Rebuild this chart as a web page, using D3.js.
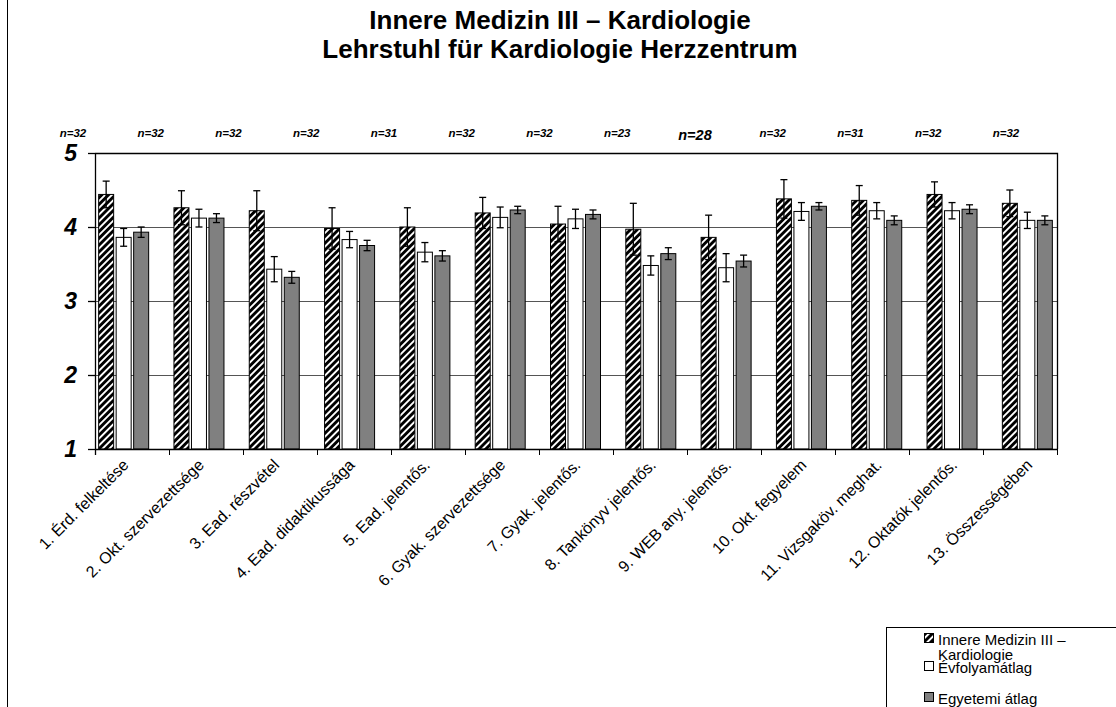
<!DOCTYPE html>
<html>
<head>
<meta charset="utf-8">
<script src="https://cdn.jsdelivr.net/npm/d3@7"></script>
<style>
  body { margin: 0; background: #fff; }
  text { font-family: Arial, "Liberation Sans", sans-serif; }
</style>
</head>
<body>
<svg width="1116" height="707"></svg>
<script>
const categories = [
  "1. Érd. felkeltése", "2. Okt. szervezettsége", "3. Ead. részvétel",
  "4. Ead. didaktikussága", "5. Ead. jelentős.", "6. Gyak. szervezettsége",
  "7. Gyak. jelentős.", "8. Tankönyv jelentős.", "9. WEB any. jelentős.",
  "10. Okt. fegyelem", "11. Vizsgaköv. meghat.", "12. Oktatók jelentős.",
  "13. Összességében"
];
const nLabels = ["n=32", "n=32", "n=32", "n=32", "n=31", "n=32", "n=32",
                 "n=23", "n=28", "n=32", "n=31", "n=32", "n=32"];
const seriesNames = ["Innere Medizin III – Kardiologie", "Évfolyamátlag", "Egyetemi átlag"];

const klinik = [4.44, 4.26, 4.22, 3.98, 4.00, 4.19, 4.04, 3.97, 3.86, 4.38, 4.36, 4.44, 4.32];
const klinikErr = [0.18, 0.23, 0.27, 0.28, 0.26, 0.21, 0.24, 0.35, 0.30, 0.26, 0.20, 0.17, 0.18];
const evfolyam = [3.86, 4.12, 3.43, 3.83, 3.66, 4.13, 4.11, 3.48, 3.45, 4.21, 4.22, 4.22, 4.09];
const evfolyamErr = [0.12, 0.12, 0.17, 0.11, 0.13, 0.14, 0.13, 0.13, 0.19, 0.12, 0.11, 0.11, 0.11];
const egyetem = [3.93, 4.12, 3.32, 3.75, 3.61, 4.23, 4.17, 3.64, 3.54, 4.28, 4.09, 4.24, 4.09];
const egyetemErr = [0.07, 0.06, 0.08, 0.07, 0.07, 0.05, 0.06, 0.08, 0.08, 0.05, 0.06, 0.06, 0.06];
const yTicks = [1, 2, 3, 4, 5];

const plot = { left: 95, top: 153, right: 1057, bottom: 449 };

const svg = d3.select("svg");

// hatch pattern for the first series
const defs = svg.append("defs");
const pat = defs.append("pattern")
  .attr("id", "hatch")
  .attr("patternUnits", "userSpaceOnUse")
  .attr("width", 4.8).attr("height", 4.8)
  .attr("patternTransform", "rotate(45)");
pat.append("rect").attr("width", 4.8).attr("height", 4.8).attr("fill", "#000");
pat.append("rect").attr("width", 1.9).attr("height", 4.8).attr("fill", "#fff");

const fills = ["url(#hatch)", "#ffffff", "#808080"];

// scales
const y = d3.scaleLinear().domain([1, 5]).range([plot.bottom, plot.top]);
const xTick = d3.scaleLinear().domain([0, categories.length]).range([plot.left, plot.right]);
const xGroup = d3.scaleBand().domain(categories).range([86, 1065]);
const xSeries = d3.scaleBand().domain(d3.range(3)).range([-25, 25]).paddingInner(0.143);
const xN = d3.scalePoint().domain(d3.range(nLabels.length)).range([73, 1006]);

// outer chart border (left edge only visible)
svg.append("line")
  .attr("x1", 7.5).attr("x2", 7.5).attr("y1", 0).attr("y2", 707)
  .attr("stroke", "#000").attr("stroke-width", 1);

// title
svg.append("text")
  .attr("x", 560).attr("y", 29)
  .attr("text-anchor", "middle")
  .style("font-size", "26px").style("font-weight", "bold")
  .text("Innere Medizin III – Kardiologie");
svg.append("text")
  .attr("x", 560).attr("y", 58)
  .attr("text-anchor", "middle")
  .style("font-size", "26px").style("font-weight", "bold")
  .text("Lehrstuhl für Kardiologie Herzzentrum");

// gridlines
svg.append("g")
  .selectAll("line")
  .data(yTicks.filter(d => d > 1 && d < 5))
  .join("line")
  .attr("x1", plot.left).attr("x2", plot.right)
  .attr("y1", d => y(d) + 0.5).attr("y2", d => y(d) + 0.5)
  .attr("stroke", "#555").attr("stroke-width", 1);

// plot frame: top and right
svg.append("path")
  .attr("d", `M${plot.left},${y(5) + 0.5}H${plot.right + 0.5}V${plot.bottom}`)
  .attr("fill", "none").attr("stroke", "#000").attr("stroke-width", 1.3);

// bars
const seriesVals = [klinik, evfolyam, egyetem];
const seriesErr = [klinikErr, evfolyamErr, egyetemErr];
const barData = [];
categories.forEach((c, i) => {
  for (let s = 0; s < 3; s++) {
    barData.push({ cat: c, s, v: seriesVals[s][i], e: seriesErr[s][i] });
  }
});

const bx = d => xGroup(d.cat) + xGroup.bandwidth() / 2 + xSeries(d.s);

svg.append("g")
  .selectAll("rect")
  .data(barData)
  .join("rect")
  .attr("x", bx)
  .attr("y", d => y(d.v))
  .attr("width", xSeries.bandwidth())
  .attr("height", d => y(1) - y(d.v))
  .attr("fill", d => fills[d.s])
  .attr("stroke", "#000")
  .attr("stroke-width", 1);

// error bars
const eb = svg.append("g").attr("stroke", "#000").attr("stroke-width", 1.3);
const ecx = d => bx(d) + xSeries.bandwidth() / 2;
eb.selectAll(".ev").data(barData).join("line")
  .attr("x1", ecx).attr("x2", ecx)
  .attr("y1", d => y(d.v + d.e)).attr("y2", d => y(d.v - d.e));
eb.selectAll(".et").data(barData).join("line")
  .attr("x1", d => ecx(d) - 3.5).attr("x2", d => ecx(d) + 3.5)
  .attr("y1", d => y(d.v + d.e)).attr("y2", d => y(d.v + d.e));
eb.selectAll(".eb").data(barData).join("line")
  .attr("x1", d => ecx(d) - 3.5).attr("x2", d => ecx(d) + 3.5)
  .attr("y1", d => y(d.v - d.e)).attr("y2", d => y(d.v - d.e));

// y axis
svg.append("line")
  .attr("x1", plot.left + 0.5).attr("x2", plot.left + 0.5)
  .attr("y1", plot.top).attr("y2", plot.bottom + 6)
  .attr("stroke", "#000").attr("stroke-width", 1.3);
svg.append("g")
  .selectAll("line")
  .data(yTicks)
  .join("line")
  .attr("x1", plot.left - 7).attr("x2", plot.left)
  .attr("y1", d => y(d) + 0.5).attr("y2", d => y(d) + 0.5)
  .attr("stroke", "#000").attr("stroke-width", 1.3);
svg.append("g")
  .selectAll("text")
  .data(yTicks)
  .join("text")
  .attr("x", 77).attr("y", d => y(d) + 8)
  .attr("text-anchor", "end")
  .style("font-size", "23px").style("font-weight", "bold").style("font-style", "italic")
  .text(d => d);

// x axis
svg.append("line")
  .attr("x1", plot.left).attr("x2", plot.right + 0.5)
  .attr("y1", plot.bottom + 0.5).attr("y2", plot.bottom + 0.5)
  .attr("stroke", "#000").attr("stroke-width", 1.3);
svg.append("g")
  .selectAll("line")
  .data(d3.range(categories.length + 1))
  .join("line")
  .attr("x1", d => xTick(d) + 0.5).attr("x2", d => xTick(d) + 0.5)
  .attr("y1", plot.bottom).attr("y2", plot.bottom + 6)
  .attr("stroke", "#000").attr("stroke-width", 1);

svg.append("g")
  .selectAll("text")
  .data(categories)
  .join("text")
  .attr("transform", d => `translate(${xGroup(d) + xGroup.bandwidth() / 2 + 6},${plot.bottom + 17}) rotate(-45)`)
  .attr("text-anchor", "end")
  .style("font-size", "16px")
  .text(d => d);

// n labels
svg.append("g")
  .selectAll("text")
  .data(nLabels)
  .join("text")
  .attr("x", (d, i) => xN(i))
  .attr("y", (d, i) => d === "n=28" ? 140 : 137)
  .attr("text-anchor", "middle")
  .style("font-size", d => d === "n=28" ? "14.5px" : "11.5px")
  .style("font-weight", "bold").style("font-style", "italic")
  .text(d => d);

// legend
const lg = svg.append("g");
lg.append("rect")
  .attr("x", 886.5).attr("y", 627.5).attr("width", 260).attr("height", 100)
  .attr("fill", "#fff").attr("stroke", "#000").attr("stroke-width", 1);
const legendRows = [
  { s: 0, lines: ["Innere Medizin III –", "Kardiologie"], y: 645 },
  { s: 1, lines: [seriesNames[1]], y: 673 },
  { s: 2, lines: [seriesNames[2]], y: 704 }
];
legendRows.forEach(r => {
  lg.append("rect")
    .attr("x", 924.5).attr("y", r.y - 11.5).attr("width", 9).attr("height", 9)
    .attr("fill", fills[r.s]).attr("stroke", "#000").attr("stroke-width", 1);
  r.lines.forEach((t, j) => {
    lg.append("text")
      .attr("x", 938).attr("y", r.y + j * 15)
      .style("font-size", "15px")
      .text(t);
  });
});
</script>
</body>
</html>
